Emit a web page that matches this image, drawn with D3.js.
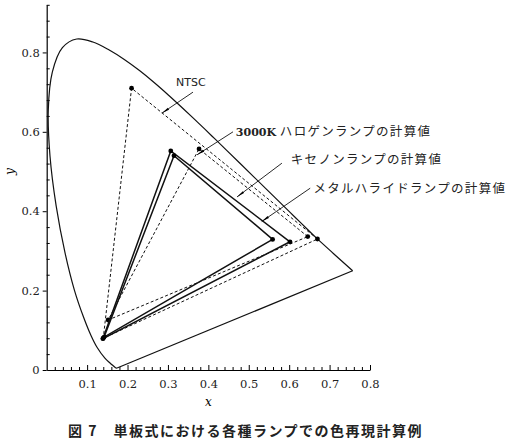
<!DOCTYPE html>
<html>
<head>
<meta charset="utf-8">
<script src="https://cdn.jsdelivr.net/npm/d3@7"></script>
<style>
    body { margin: 0; background: #fff; }
    svg { display: block; }
</style>
</head>
<body>
<svg id="chart" width="513" height="446"></svg>
<script>
// CIE spectral locus (x, y), red end
const locusX = [0.1741, 0.1714, 0.1644, 0.1566, 0.1440, 0.1241, 0.1096, 0.0913, 0.0687, 0.0454, 0.0235, 0.0082, 0.0039, 0.0139, 0.0389, 0.0743, 0.1142, 0.1547, 0.1929, 0.2296, 0.2658, 0.3016, 0.3373, 0.3731, 0.4087, 0.4441, 0.4788, 0.5125, 0.5448, 0.5752, 0.6029, 0.6270, 0.6658, 0.7100, 0.7570];
const locusY = [0.0050, 0.0051, 0.0109, 0.0177, 0.0297, 0.0578, 0.0868, 0.1327, 0.2007, 0.2950, 0.4127, 0.5384, 0.6548, 0.7502, 0.8120, 0.8338, 0.8262, 0.8059, 0.7816, 0.7543, 0.7243, 0.6923, 0.6589, 0.6245, 0.5896, 0.5547, 0.5202, 0.4866, 0.4544, 0.4242, 0.3965, 0.3725, 0.3340, 0.2930, 0.2500];

// triangle vertices: R, G, B
const ntsc = [[0.670, 0.330], [0.210, 0.710], [0.140, 0.080]];
const halogen3000K = [[0.646, 0.336], [0.377, 0.557], [0.152, 0.126]];
const xenon = [[0.602, 0.323], [0.307, 0.552], [0.139, 0.079]];
const metalHalide = [[0.559, 0.329], [0.315, 0.540], [0.142, 0.083]];

const labelTexts = ["NTSC", "3000K ハロゲンランプの計算値", "キセノンランプの計算値", "メタルハライドランプの計算値"];
const labelAt = [[0.320, 0.725], [0.468, 0.600], [0.604, 0.529], [0.660, 0.458]];
const leaderFrom = [[0.362, 0.700], [0.461, 0.600], [0.582, 0.521], [0.652, 0.458]];
const leaderTo = [[0.285, 0.647], [0.372, 0.542], [0.471, 0.436], [0.532, 0.374]];

const xMajor = [0.1, 0.2, 0.3, 0.4, 0.5, 0.6, 0.7, 0.8];
const yMajor = [0, 0.2, 0.4, 0.6, 0.8];
const caption = "図 7　単板式における各種ランプでの色再現計算例";

const svg = d3.select("#chart");
const x = d3.scaleLinear().domain([0, 0.8]).range([46.7, 370]);
const y = d3.scaleLinear().domain([0, 0.92]).range([370, 4.8]);

const serif = "'DejaVu Serif', 'Liberation Serif', serif";
const jp = "'Noto Sans CJK JP', sans-serif";

// axes
const xMinor = d3.range(0.02, 0.8, 0.02).filter((v) => Math.abs(v * 10 - Math.round(v * 10)) > 0.01);
svg.append("g")
    .attr("transform", `translate(0,${y(0)})`)
    .call(d3.axisBottom(x).tickValues(xMinor).tickSize(-3).tickSizeOuter(0).tickFormat(""))
    .call((g) => g.select(".domain").attr("stroke-width", 1.2));
svg.append("g")
    .attr("transform", `translate(0,${y(0)})`)
    .call(d3.axisBottom(x).tickValues(xMajor).tickSize(-5).tickSizeOuter(0).tickPadding(10))
    .call((g) => g.select(".domain").remove())
    .call((g) => g.selectAll("text").attr("font-family", serif).attr("font-size", 11.5).attr("fill", "#222"));

const yMinor = d3.range(0.04, 0.93, 0.04).filter((v) => Math.abs(v * 5 - Math.round(v * 5)) > 0.01);
svg.append("g")
    .attr("transform", `translate(${x(0)},0)`)
    .call(d3.axisLeft(y).tickValues(yMinor).tickSize(-3).tickSizeOuter(0).tickFormat(""))
    .call((g) => g.select(".domain").attr("stroke-width", 1.2));
svg.append("g")
    .attr("transform", `translate(${x(0)},0)`)
    .call(d3.axisLeft(y).tickValues(yMajor).tickSize(4).tickSizeOuter(0).tickPadding(3)
        .tickFormat((d) => d === 0 ? "0" : d3.format(".1f")(d)))
    .call((g) => g.select(".domain").remove())
    .call((g) => g.selectAll("text").attr("font-family", serif).attr("font-size", 11.5).attr("fill", "#222"));

svg.append("text")
    .attr("x", x(0.4)).attr("y", 406)
    .attr("text-anchor", "middle")
    .attr("font-family", serif).attr("font-style", "italic").attr("font-size", 12)
    .text("x");
svg.append("text")
    .attr("transform", `translate(14,${y(0.5)}) rotate(-90)`)
    .attr("text-anchor", "middle")
    .attr("font-family", serif).attr("font-style", "italic").attr("font-size", 12)
    .text("y");

// spectral locus (smooth), closed by the straight purple line
const locus = locusX.map((v, i) => [v, locusY[i]]);
svg.append("path")
    .datum(locus)
    .attr("fill", "none")
    .attr("stroke", "#111")
    .attr("stroke-width", 1.2)
    .attr("d", d3.line().x((d) => x(d[0])).y((d) => y(d[1])).curve(d3.curveCatmullRom.alpha(0.5)));
svg.append("line")
    .attr("x1", x(locus[locus.length - 1][0])).attr("y1", y(locus[locus.length - 1][1]))
    .attr("x2", x(locus[0][0])).attr("y2", y(locus[0][1]))
    .attr("stroke", "#111")
    .attr("stroke-width", 1.2);

// gamut triangles
const triangles = [
    { pts: ntsc, dash: "3,2.2", width: 1 },
    { pts: halogen3000K, dash: "3,2.2", width: 1 },
    { pts: xenon, dash: null, width: 1.5 },
    { pts: metalHalide, dash: null, width: 1.5 },
];
const tri = d3.line().x((d) => x(d[0])).y((d) => y(d[1])).curve(d3.curveLinearClosed);
triangles.forEach((t) => {
    svg.append("path")
        .datum(t.pts)
        .attr("fill", "none")
        .attr("stroke", "#111")
        .attr("stroke-width", t.width)
        .attr("stroke-dasharray", t.dash)
        .attr("d", tri);
    svg.selectAll(null)
        .data(t.pts)
        .enter()
        .append("circle")
        .attr("cx", (d) => x(d[0]))
        .attr("cy", (d) => y(d[1]))
        .attr("r", 2.4)
        .attr("fill", "#000");
});

// leaders and labels
svg.append("defs").append("marker")
    .attr("id", "tip")
    .attr("viewBox", "0 0 10 4")
    .attr("refX", 10).attr("refY", 2)
    .attr("markerWidth", 8).attr("markerHeight", 3.2)
    .attr("markerUnits", "userSpaceOnUse")
    .attr("orient", "auto")
    .append("path")
    .attr("d", "M0,0.6 L10,2 L0,3.4 Z")
    .attr("fill", "#000");

labelTexts.forEach((txt, i) => {
    svg.append("line")
        .attr("x1", x(leaderFrom[i][0])).attr("y1", y(leaderFrom[i][1]))
        .attr("x2", x(leaderTo[i][0])).attr("y2", y(leaderTo[i][1]))
        .attr("stroke", "#111")
        .attr("stroke-width", 0.9)
        .attr("marker-end", "url(#tip)");
    const t = svg.append("text")
        .attr("x", x(labelAt[i][0]))
        .attr("y", y(labelAt[i][1]))
        .attr("dy", "0.35em")
        .attr("font-size", 12.5)
        .attr("fill", "#222");
    if (i === 0) {
        t.attr("font-family", "'DejaVu Sans', sans-serif").attr("font-size", 11).text(txt);
    } else {
        const parts = txt.split(" ");
        if (parts.length > 1) {
            t.append("tspan").attr("font-family", serif).attr("font-weight", "bold").attr("font-size", 11).text(parts[0] + " ");
        }
        t.append("tspan").attr("font-family", jp).attr("letter-spacing", 1.3).text(parts[parts.length - 1]);
    }
});

svg.append("text")
    .attr("x", 68).attr("y", 436)
    .attr("font-family", jp)
    .attr("font-weight", "bold")
    .attr("font-size", 14)
    .attr("letter-spacing", 1.5)
    .attr("fill", "#222")
    .text(caption);
</script>
</body>
</html>
